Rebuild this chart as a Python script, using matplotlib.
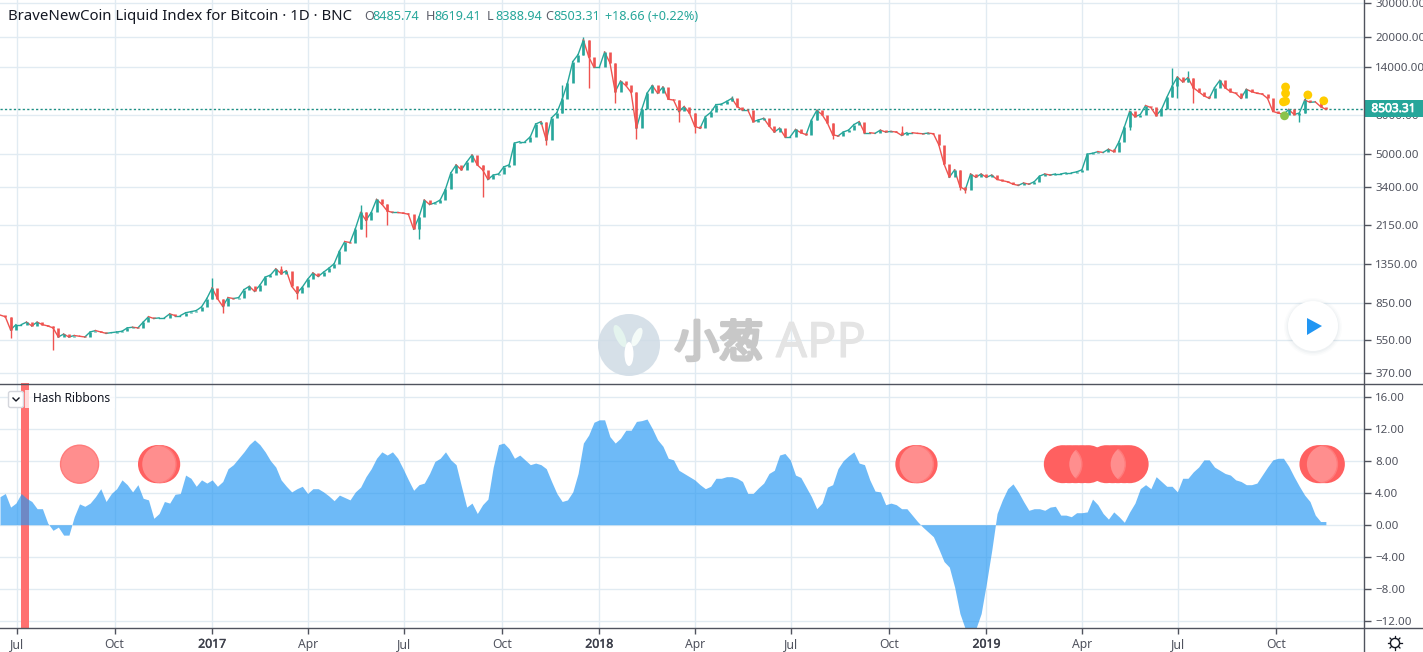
import matplotlib
matplotlib.use("Agg")
import numpy as np
import pandas as pd
import matplotlib.pyplot as plt
import matplotlib.dates as mdates
import matplotlib.patheffects as pe
from matplotlib.collections import LineCollection
from matplotlib.patches import Circle, Ellipse, Rectangle, Polygon, FancyBboxPatch
from matplotlib.transforms import IdentityTransform

W, H = 1423, 652
TEAL, RED = "#26a69a", "#ef5350"
GRID, AXIS, TXT = "#e1ebf2", "#50535e", "#50535e"
FONT = ["Noto Sans", "DejaVu Sans"]
plt.rcParams["font.family"] = FONT

# ---- data, one reading every 5 days from 2016-06-15 ----
closes = [740,725,620,660,660,680,650,680,660,650,635,570,590,570,580,575,570,605,615,605,
 595,600,605,610,635,640,635,680,725,710,715,715,750,735,735,760,770,780,815,900,
 1020,900,820,910,900,910,1000,1040,980,1055,1160,1190,1280,1210,1250,1040,960,1030,1130,1220,
 1170,1230,1290,1360,1580,1770,1750,2060,2500,2280,2500,2920,2760,2550,2500,2500,2480,2450,2050,2370,
 2900,2750,2800,2900,3300,4000,4400,4150,4550,4950,4400,4150,3700,3900,3950,4300,4400,5700,5800,5800,
 6150,7150,7350,5900,7700,8180,9600,11600,15000,16300,19400,15900,14000,14000,16800,14800,10500,11900,11300,10400,
 6800,8500,10300,11300,10300,11100,9600,9500,8300,8800,8150,6950,6800,7800,8200,9000,9050,9350,9700,8800,
 8450,8450,7350,7500,7650,7000,6500,6800,6150,6150,6700,6450,6300,7500,8400,8000,7250,6300,6200,6500,
 6650,7100,7350,6450,6450,6400,6650,6500,6550,6500,6250,6450,6450,6400,6370,6420,6370,5600,4450,3800,
 4150,3400,3270,3950,3800,3950,3800,3900,3700,3650,3600,3500,3450,3550,3500,3600,3850,3950,3900,3950,
 3950,4000,4000,4050,4150,5000,5050,5150,5100,5300,5150,5800,6900,8300,7800,8000,8900,8700,7900,8500,
 9800,11200,12500,11800,12400,11000,10500,10000,9700,11000,12000,11000,10500,10300,9700,10800,10500,10300,10200,9700,
 8300,8150,8000,8500,8000,8150,9500,9250,9300,8800,8503.31]
wick_index = [2,10,40,42,53,56,68,69,73,79,91,103,106,110,111,116,120,128,131,138,154,157,170,181,182,213,221,222,224,225,245,246]
wick_price = [560,487,1150,755,1320,890,2740,1860,2150,1815,3000,5560,11300,20000,11000,9200,5950,7350,6450,10000,8500,6000,7000,3250,3150,6650,13900,9700,13350,9200,7350,10500]

hash_ribbon = [3.5,3.9,2.2,2.7,3.9,3.3,2.9,2.0,2.0,0.2,-0.7,-0.3,-1.3,-1.3,1.0,2.6,2.3,2.7,3.5,4.5,
 2.9,3.9,4.5,5.6,5.0,4.1,5.0,3.3,3.1,0.8,1.4,2.9,2.7,3.8,3.9,6.2,5.8,4.8,5.6,5.2,
 5.6,4.8,5.4,7.0,7.5,8.3,9.1,10.0,10.6,10.0,9.1,8.0,7.2,5.6,4.8,4.1,4.5,4.8,3.9,4.5,
 4.5,4.1,3.6,3.0,3.7,3.4,3.1,4.1,4.7,6.0,7.0,8.3,9.1,8.7,9.1,8.3,7.0,5.6,4.3,5.0,
 5.2,6.4,7.9,8.3,9.1,8.1,7.5,4.8,2.2,2.7,1.4,2.5,3.2,7.2,10.0,10.2,9.5,8.3,8.7,8.1,
 7.5,7.7,7.5,7.0,5.4,3.9,2.9,3.1,4.1,6.4,10.2,11.2,12.8,13.1,13.1,11.0,10.2,10.8,11.8,11.8,
 12.9,13.0,13.2,12.0,10.6,9.8,8.3,8.1,6.8,6.4,6.0,5.6,5.0,4.5,4.8,5.8,5.8,6.0,6.0,5.8,
 5.4,3.9,3.9,4.6,5.2,6.4,6.8,8.7,8.9,8.1,6.2,5.9,4.7,3.5,2.0,2.7,4.7,5.0,7.0,8.0,
 8.6,9.1,7.7,7.5,5.6,4.2,4.1,2.5,2.7,2.5,2.0,2.0,1.2,0.4,-0.3,-0.9,-1.5,-3.0,-4.6,-5.3,
 -7.8,-11.1,-13,-13,-13,-11.1,-7.3,-3.2,1.4,3.1,4.5,5.1,4.1,2.9,1.8,2.0,2.0,1.8,2.2,2.3,
 1.2,1.2,1.0,1.5,1.5,1.6,3.2,2.5,1.4,0.7,1.6,1.0,0.3,1.6,2.7,4.5,5.0,4.5,6.0,5.4,
 4.8,4.8,4.1,5.8,5.8,6.6,7.2,8.1,8.1,7.2,6.8,6.4,6.2,5.6,5.4,5.0,5.0,5.2,6.2,7.2,
 8.1,8.3,8.3,7.3,6.0,4.8,3.7,2.9,1.2,0.4,0.4]

yellow_dates = ["2019-10-10","2019-10-10","2019-10-10","2019-10-08","2019-10-31","2019-11-15"]
yellow_price = [11100,10300,9380,9300,10100,9420]
green_dates = ["2019-10-09"]
green_price = [7880]

signal_groups = [["2016-08-29"],["2016-11-10","2016-11-12","2016-11-14"],["2018-10-25","2018-10-27","2018-10-29"],
                 ["2019-03-14","2019-03-20","2019-03-26","2019-04-01","2019-04-07"],
                 ["2019-04-24","2019-04-30","2019-05-05","2019-05-11","2019-05-16"],
                 ["2019-11-10","2019-11-13","2019-11-17"]]
signal_level = 7.56
stripe_span = ["2016-07-05","2016-07-12"]

price_ticks = [30000,20000,14000,8000,5000,3400,2150,1350,850,550,370]
ribbon_ticks = [16,12,8,4,0,-4,-8,-12]
date_ticks = ["2016-07-01","2016-10-01","2017-01-01","2017-04-01","2017-07-01","2017-10-01","2018-01-01",
              "2018-04-01","2018-07-01","2018-10-01","2019-01-01","2019-04-01","2019-07-01","2019-10-01"]
date_labels = ["Jul","Oct","2017","Apr","Jul","Oct","2018","Apr","Jul","Oct","2019","Apr","Jul","Oct"]

# ---- figure ----
def num(d):
    return mdates.date2num(pd.to_datetime(d))

start = pd.Timestamp("2016-06-15")
dates = num(start + pd.to_timedelta(np.arange(len(closes)) * 5, unit="D"))
rib_dates = num(start + pd.to_timedelta(np.arange(len(hash_ribbon)) * 5, unit="D"))
xlim = (num(start), num(start) + 1364 / 1.0607)

fig = plt.figure(figsize=(W / 100, H / 100), dpi=100, facecolor="white")
ax1 = fig.add_axes([0, (H - 383) / H, 1364 / W, 383 / H])
ax2 = fig.add_axes([0, 24 / H, 1364 / W, 245 / H])

for ax in (ax1, ax2):
    ax.set_xlim(xlim)
    ax.set_xticks(num(date_ticks))
    ax.grid(True, color=GRID, lw=1.0)
    ax.set_axisbelow(True)
    ax.yaxis.tick_right()
    for s in ax.spines.values():
        s.set_visible(False)
    ax.tick_params(axis="y", length=5, color=AXIS, labelcolor=TXT, labelsize=8.3, pad=3, width=1)

# price panel
ax1.set_yscale("log")
ax1.set_ylim(330.0, 31188)
ax1.set_yticks(price_ticks)
ax1.minorticks_off()
ax1.set_yticklabels([f"{t:.2f}" for t in price_ticks])
ax1.tick_params(axis="x", length=0, labelbottom=False)

c = np.array(closes, float)
o = np.r_[c[0], c[:-1]]
up = c >= o
col = np.where(up, TEAL, RED)
wi = np.array(wick_index)
w = np.array(wick_price, float)
ax1.vlines(dates[wi], np.minimum(w, np.minimum(o[wi], c[wi])), np.maximum(w, np.maximum(o[wi], c[wi])),
           colors=col[wi], lw=1.0, zorder=3)
segments = np.stack([np.c_[dates[:-1], c[:-1]], np.c_[dates[1:], c[1:]]], axis=1)
ax1.add_collection(LineCollection(segments, colors=col[1:], linewidths=1.0, zorder=3, capstyle="projecting"))
ax1.vlines(dates, o, c, colors=col, lw=1.9, capstyle="butt", zorder=3)
ax1.axhline(closes[-1], color="#1f8f85", lw=1, ls=(0, (1.6, 1.6)), zorder=2)
ax1.scatter(num(yellow_dates), yellow_price, s=40, color="#ffcc00", edgecolor="none", zorder=5)
ax1.scatter(num(green_dates), green_price, s=40, color="#8bc34a", edgecolor="none", zorder=5)

# ribbon panel
ax2.set_ylim(-12.9, 17.7)
ax2.set_yticks(ribbon_ticks)
ax2.set_yticklabels([f"{t:.2f}".replace("-", "\u2212") for t in ribbon_ticks])
ax2.axvspan(num(stripe_span[0]), num(stripe_span[1]), color="#ff7070", lw=0, zorder=1)
ax2.fill_between(rib_dates, hash_ribbon, 0, color="#2196f3", alpha=0.65, lw=0, zorder=2)
ax2.set_xticklabels(date_labels)
ax2.tick_params(axis="x", length=4, color=AXIS, labelcolor=TXT, labelsize=8.8, pad=3, width=1)
for lab, txt in zip(ax2.get_xticklabels(), date_labels):
    if txt.isdigit():
        lab.set_color("#3c3f4a")
        lab.set_path_effects([pe.withStroke(linewidth=0.3, foreground="#3c3f4a")])

R = 19
for group in signal_groups:
    xs = num(group)
    ys = [signal_level] * len(xs)
    if len(xs) > 1:
        ax2.scatter(xs, ys, s=748, color="#ff6060", edgecolor="none", zorder=4)
    pts = ax2.transData.transform(np.c_[xs, ys])
    first = Circle(pts[0], R, transform=IdentityTransform(), facecolor="#ff8e8e",
                   edgecolor="#ff7b7b", lw=1, zorder=5)
    ax2.add_patch(first)
    if len(xs) > 1:
        first.set_clip_path(Circle(pts[-1], R, transform=IdentityTransform()))

# ---- pixel overlay for chrome ----
ov = fig.add_axes([0, 0, 1, 1], zorder=10)
ov.set_xlim(0, W)
ov.set_ylim(H, 0)
ov.axis("off")
ov.patch.set_alpha(0)
ov.plot([1364, 1364], [0, H], color=AXIS, lw=1)
ov.plot([0, W], [383.5, 383.5], color=AXIS, lw=1)
ov.plot([0, W], [628, 628], color=AXIS, lw=1)

# title
ov.text(8, 17, "BraveNewCoin Liquid Index for Bitcoin \u00b7 1D \u00b7 BNC", fontsize=10.75,
        color="#131722", va="center", ha="left")
for px, head, val in [(364, "O", "8485.74"), (426, "H", "8619.41"), (487, "L", "8388.94"), (545, "C", "8503.31")]:
    ov.text(px, 17, head, fontsize=9.1, color="#5d606b", va="center")
    ov.text(px + 8, 17, val, fontsize=9.1, color=TEAL, va="center")
ov.text(605, 17, "+18.66 (+0.22%)", fontsize=9.1, color=TEAL, va="center")

# last price tag
ov.add_patch(Rectangle((1364, 100), 59, 17, facecolor=TEAL, edgecolor="none"))
ov.text(1393.5, 108.5, "8503.31", color="white", fontsize=8.6, ha="center", va="center",
        path_effects=[pe.withStroke(linewidth=0.5, foreground="white")])

# legend button
ov.add_patch(FancyBboxPatch((8.5, 391.5), 15, 16, boxstyle="round,pad=0,rounding_size=2",
                            facecolor="white", edgecolor="#d4d6dc", lw=1))
ov.plot([13, 16, 19], [398, 401, 398], color="#131722", lw=1)
ov.add_patch(Rectangle((25, 390), 90, 18, facecolor="white", alpha=0.75, edgecolor="none"))
ov.text(33, 399, "Hash Ribbons", fontsize=8.6, color="#131722", va="center")

# settings icon
ov.add_patch(Circle((1395, 643), 4.6, facecolor="white", edgecolor="#131722", lw=1))
for a in np.arange(0, 360, 45):
    ca, sa = np.cos(np.radians(a)), np.sin(np.radians(a))
    ov.plot([1395 + 4.6 * ca, 1395 + 7 * ca], [643 + 4.6 * sa, 643 + 7 * sa], color="#131722", lw=0.9)

# play button
for r, a in [(29, 0.02), (27.5, 0.03), (26, 0.04)]:
    ov.add_patch(Circle((1313, 327), r, facecolor="#5a6a80", alpha=a, edgecolor="none"))
ov.add_patch(Circle((1313, 326), 25, facecolor="white", edgecolor="none"))
ov.add_patch(Polygon([[1307, 318], [1322, 326], [1307, 335]], closed=True, facecolor="#2196f3", edgecolor="none"))

# watermark
ov.add_patch(Circle((629, 345), 31, facecolor="#cfdbe5", alpha=0.85, edgecolor="none"))
ov.add_patch(Ellipse((620, 336), 9, 24, angle=-25, facecolor="#e4f4ee", edgecolor="none"))
ov.add_patch(Ellipse((637, 337), 8, 20, angle=25, facecolor="#f4fbf8", edgecolor="none"))
ov.add_patch(Ellipse((629, 354), 9, 24, angle=0, facecolor="#ffffff", edgecolor="none"))
ov.text(719, 344, "\u5c0f\u8471", family=["Noto Sans CJK SC", "DejaVu Sans"], fontsize=32, color="#c8c8c8",
        ha="center", va="center", path_effects=[pe.withStroke(linewidth=2.4, foreground="#c8c8c8")])
ov.text(821, 344, "APP", fontsize=35, color="#e4e4e4", ha="center", va="center",
        path_effects=[pe.withStroke(linewidth=0.8, foreground="#e4e4e4")])

fig.savefig("out.png", dpi=100, facecolor="white")
